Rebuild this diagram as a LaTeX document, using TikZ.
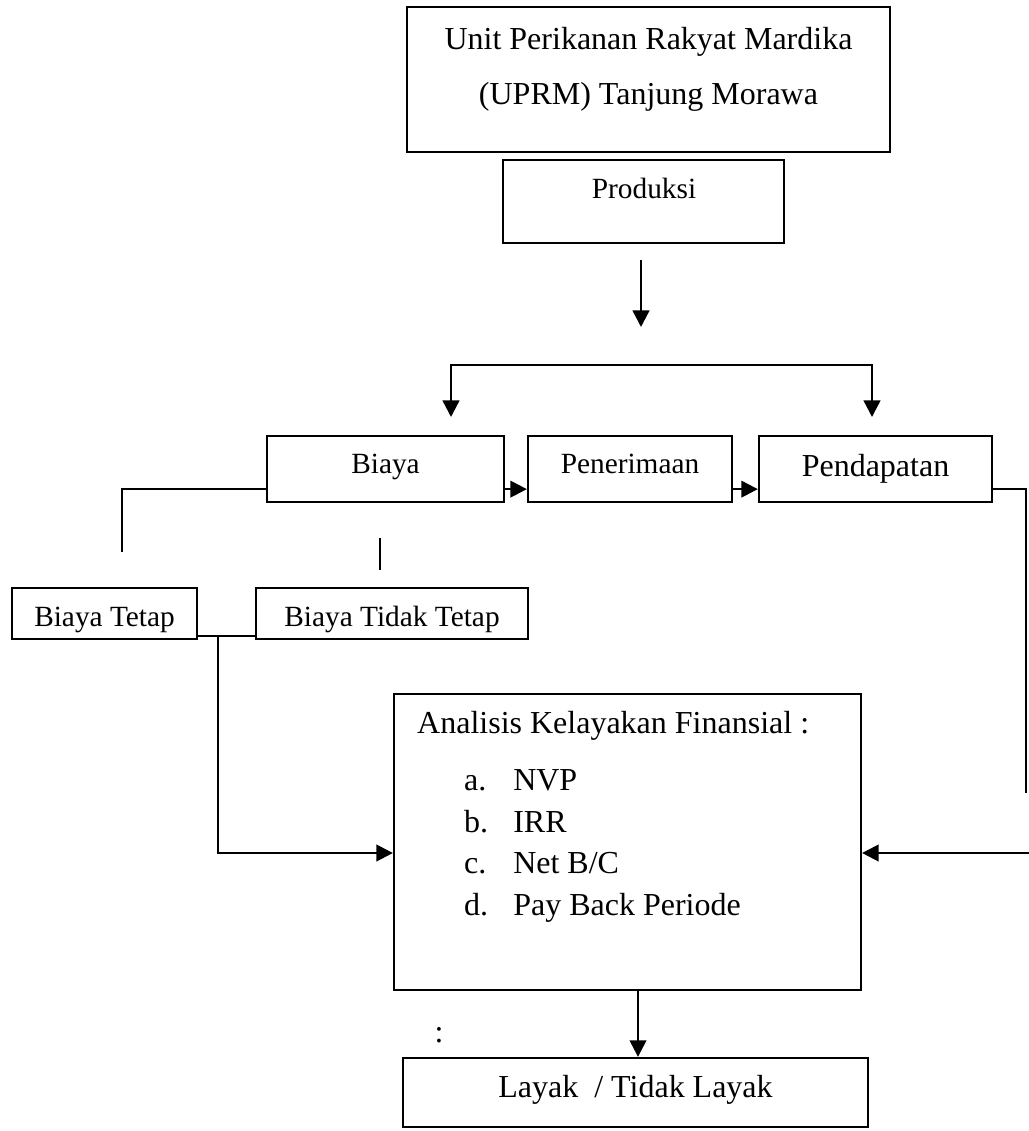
\documentclass[tikz,border=0pt]{standalone}
\usepackage{fontspec}
\setmainfont{Liberation Serif}
\usetikzlibrary{positioning, arrows.meta}

\tikzset{
  kotak/.style={draw, rectangle, inner sep=0pt, line width=0.85pt},
  teks/.style={inner sep=0pt},
  panah/.style={-{Triangle[length=6.2pt,width=6.2pt]}},
  kecil/.style={font=\fontsize{11}{13}\selectfont},
}

\begin{document}
\begin{tikzpicture}[x=0.375pt, y=-0.375pt, line width=0.9pt, font=\fontsize{12}{14}\selectfont]
\useasboundingbox (0,0) rectangle (1029,1131);

% kotak atas
\node[kotak, minimum width=181.1pt, minimum height=54.4pt] (uprm) at (648.5,79.5) {};
\node[teks, anchor=base] (uprm1) at (648.5,49) {Unit Perikanan Rakyat Mardika};
\node[teks, anchor=base] (uprm2) at (648.5,104) {(UPRM) Tanjung Morawa};
\node[kotak, minimum width=105.4pt, minimum height=31.1pt] (produksi) at (643.5,201.5) {};
\node[teks, kecil, anchor=base] (produksitxt) at (644,198) {Produksi};

% baris tengah
\node[kotak, kecil, minimum width=88.9pt, minimum height=24.75pt, text height=8pt, text depth=5pt] (biaya) at (385.5,469) {Biaya};
\node[kotak, kecil, minimum width=76.5pt, minimum height=24.75pt, text height=8pt, text depth=5pt] (penerimaan) at (630,469) {Penerimaan};
\node[kotak, minimum width=87.4pt, minimum height=24.75pt, text height=8pt, text depth=2.75pt] (pendapatan) at (875.5,469) {Pendapatan};

\node[kotak, kecil, minimum width=69.4pt, minimum height=19.1pt, text height=9.4pt, text depth=0pt] (tetap) at (104.5,613.5) {Biaya Tetap};
\node[kotak, kecil, minimum width=102pt, minimum height=19.1pt, text height=9.4pt, text depth=0pt] (tidaktetap) at (392,613.5) {Biaya Tidak Tetap};

% analisis
\node[kotak, minimum width=175.1pt, minimum height=111pt] (analisis) at (627.5,842) {};
\node[teks, anchor=base west] (judul) at (416,733) {Analisis Kelayakan Finansial :};
\node[teks, anchor=base west] (npv) at (463,790) {\makebox[18.4pt][l]{a.}NVP};
\node[teks, anchor=base west] (irr) at (463,832) {\makebox[18.4pt][l]{b.}IRR};
\node[teks, anchor=base west] (netbc) at (463,873) {\makebox[18.4pt][l]{c.}Net B/C};
\node[teks, anchor=base west] (pbp) at (463,915) {\makebox[18.4pt][l]{d.}Pay Back Periode};

\node[teks, anchor=base] (titikdua) at (439,1042) {:};
\node[kotak, minimum width=174.4pt, minimum height=25.9pt, text height=8pt, text depth=3.9pt] (layak) at (635.5,1092.5) {Layak\ \ / Tidak Layak};

% garis dan panah
\coordinate (turun1) at (641,260);
\coordinate (turun2) at (641,327);
\draw[panah] (turun1) -- (turun2);
\coordinate (cabangkiri) at (451,417);
\coordinate (cabangatas) at (641,365);
\coordinate (cabangkanan) at (872,417);
\draw[{Triangle[length=6.2pt,width=6.2pt]}-{Triangle[length=6.2pt,width=6.2pt]}] (cabangkiri) |- (cabangatas) -| (cabangkanan);

\draw[panah] ([yshift=5.25pt]biaya.south east) -- ([yshift=5.25pt]penerimaan.south west);
\draw[panah] ([yshift=5.25pt]penerimaan.south east) -- ([yshift=5.25pt]pendapatan.south west);

\coordinate (kiri) at (122,552);
\draw ([yshift=5.25pt]biaya.south west) -| (kiri);
\coordinate (tengah1) at (380,538);
\coordinate (tengah2) at (380,570);
\draw (tengah1) -- (tengah2);

\draw ([yshift=1.5pt]tetap.south east) -- ([yshift=1.5pt]tidaktetap.south west);
\coordinate (cabang) at (218,635);
\draw[panah] (cabang) |- ([yshift=-4.125pt]analisis.west);

\coordinate (kanan) at (1026,793);
\draw ([yshift=5.25pt]pendapatan.south east) -| (kanan);
\coordinate (masuk) at (1029,853);
\draw[panah] (masuk) -- (masuk -| analisis.east);

\coordinate (keluar) at (638,990);
\draw[panah] (keluar) -- (keluar |- layak.north);
\end{tikzpicture}
\end{document}
